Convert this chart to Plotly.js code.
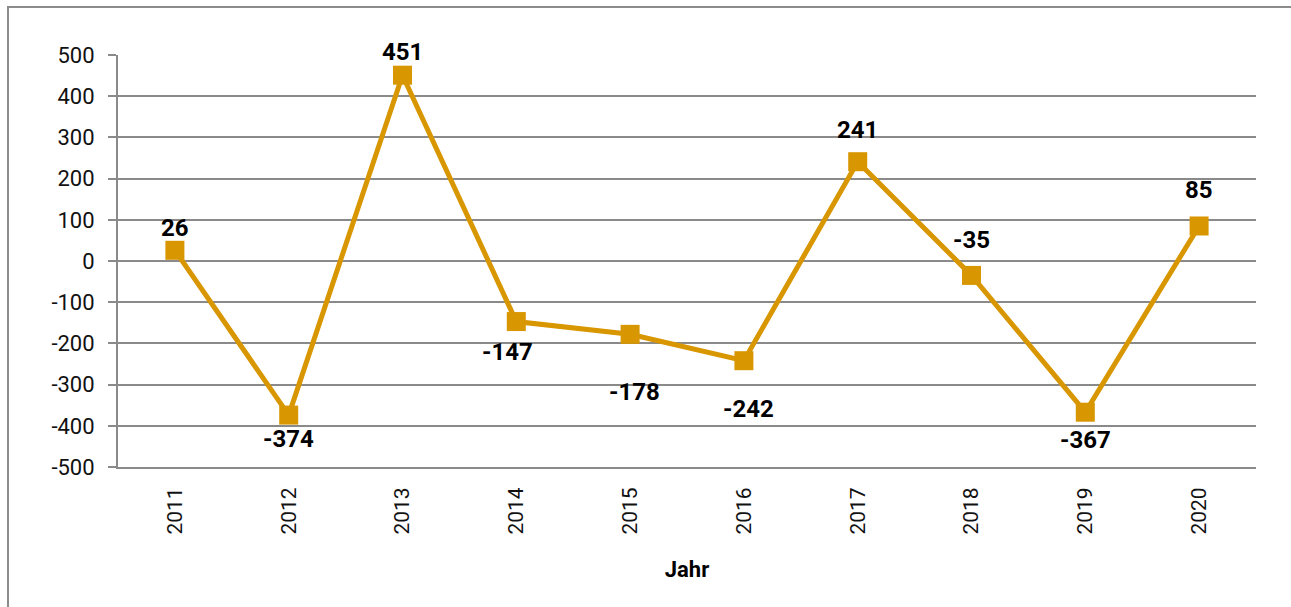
<!DOCTYPE html>
<html>
<head>
<meta charset="utf-8">
<script src="https://cdn.plot.ly/plotly-3.0.1.min.js"></script>
<style>
  html, body { margin: 0; padding: 0; background: #fff; overflow: hidden; }
  #frame { position: absolute; left: 7px; top: 6px; width: 1320px; height: 640px; border: 2px solid #8c8c8c; box-sizing: border-box; }
  #chart { position: absolute; left: 0; top: 0; width: 1291px; height: 607px; }
</style>
</head>
<body>
<div id="frame"></div>
<div id="chart"></div>
<script>
// Data
const years = ['2011', '2012', '2013', '2014', '2015', '2016', '2017', '2018', '2019', '2020'];
const values = [26, -374, 451, -147, -178, -242, 241, -35, -367, 85];
const yTickValues = [500, 400, 300, 200, 100, 0, -100, -200, -300, -400, -500];
const yTickLabels = ['500', '400', '300', '200', '100', '0', '-100', '-200', '-300', '-400', '-500'];
const xAxisTitle = 'Jahr';

// Label offsets (style, pixels) for each data label
const labelShiftY = [22, -24, 23, -30, -58, -48, 32, 35, -28, 36];
const labelShiftX = [0, 0, 0, -9, 4, 5, 0, 0, 0, 0];

const gridColor = '#8a8a8a';
const lineColor = '#D89600';

const annotations = years.map((yr, i) => ({
  x: i,
  y: values[i],
  xref: 'x',
  yref: 'y',
  text: '<b>' + String(values[i]) + '</b>',
  showarrow: false,
  xshift: labelShiftX[i],
  yshift: labelShiftY[i],
  font: { family: 'Roboto, sans-serif', size: 24, color: '#000' }
}));

const trace = {
  type: 'scatter',
  mode: 'lines+markers',
  x: years,
  y: values,
  line: { color: lineColor, width: 5 },
  marker: { symbol: 'square', size: 19, color: lineColor },
  hoverinfo: 'x+y'
};

const layout = {
  width: 1291,
  height: 607,
  margin: { l: 118, r: 35, t: 55, b: 140 },
  paper_bgcolor: 'rgba(0,0,0,0)',
  plot_bgcolor: 'rgba(0,0,0,0)',
  showlegend: false,
  font: { family: 'Roboto, sans-serif', color: '#111' },
  xaxis: {
    type: 'category',
    range: [-0.5, 9.5],
    tickangle: -90,
    tickfont: { size: 21, family: 'Roboto, sans-serif', color: '#111' },
    showgrid: false,
    showline: true,
    linecolor: gridColor,
    linewidth: 2,
    ticks: '',
    ticklabelstandoff: 10,
    title: { text: '<b>' + xAxisTitle + '</b>', font: { size: 22, family: 'Roboto, sans-serif', color: '#000' }, standoff: 28 }
  },
  yaxis: {
    range: [-500, 500],
    tickvals: yTickValues,
    ticktext: yTickLabels,
    tickfont: { size: 22, family: 'Roboto, sans-serif', color: '#111' },
    showgrid: true,
    gridcolor: gridColor,
    gridwidth: 2,
    zeroline: false,
    showline: true,
    linecolor: gridColor,
    linewidth: 2,
    ticks: 'outside',
    ticklen: 8,
    tickcolor: gridColor,
    tickwidth: 2,
    ticklabelstandoff: 9
  },
  annotations: annotations
};

Plotly.newPlot('chart', [trace], layout, { displayModeBar: false, staticPlot: true });
</script>
</body>
</html>
